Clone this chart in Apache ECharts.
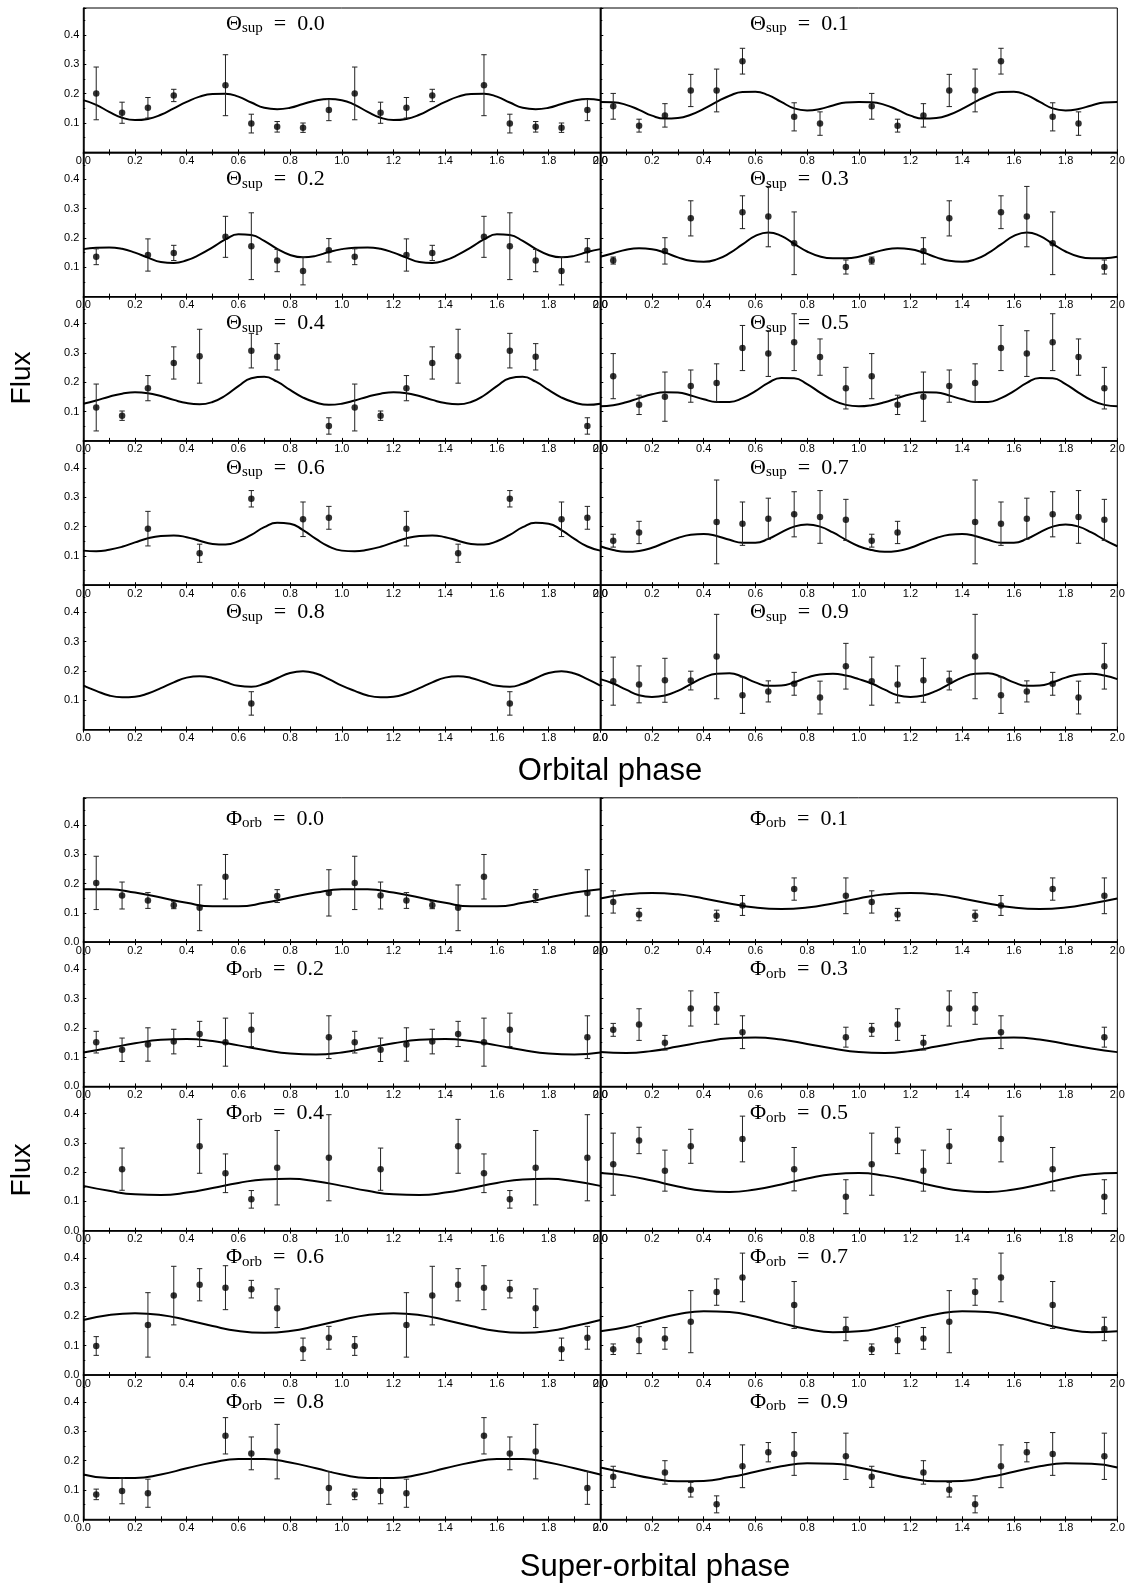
<!DOCTYPE html>
<html lang="en">
<head>
<meta charset="UTF-8">
<title>Flux vs orbital and super-orbital phase</title>
<style>html,body{margin:0;padding:0;background:#fff}</style>
</head>
<body>
<div id="chart" style="width:1130px;height:1587px"></div>
<script src="https://cdn.jsdelivr.net/npm/echarts@6/dist/echarts.min.js"></script>
<script>
// phase bins (centres) - the data are repeated over two cycles
var phaseBins = [0.05, 0.15, 0.25, 0.35, 0.45, 0.55, 0.65, 0.75, 0.85, 0.95];

// upper block: flux vs orbital phase, one panel per super-orbital phase
var supLabels = ['0.0', '0.1', '0.2', '0.3', '0.4', '0.5', '0.6', '0.7', '0.8', '0.9'];
var supFlux = [
    [0.201, 0.135, 0.152, 0.194, null, 0.229, 0.098, 0.087, 0.084, 0.144],
    [0.157, 0.091, 0.126, 0.211, 0.211, 0.311, null, 0.121, 0.098, null],
    [0.136, null, 0.142, 0.149, null, 0.204, 0.172, 0.123, 0.087, 0.158],
    [0.123, null, 0.156, 0.267, null, 0.288, 0.273, 0.182, null, 0.101],
    [0.114, 0.086, 0.180, 0.266, 0.289, null, 0.308, 0.287, null, 0.051],
    [0.221, 0.123, 0.151, 0.187, 0.198, 0.317, 0.298, 0.337, 0.286, 0.180],
    [null, null, 0.193, null, 0.109, null, 0.295, null, 0.225, 0.230],
    [0.152, 0.180, null, null, 0.216, 0.210, 0.227, 0.242, 0.233, 0.223],
    [null, null, null, null, null, null, 0.089, null, null, null],
    [0.165, 0.154, 0.168, 0.167, 0.249, 0.117, 0.130, 0.156, 0.109, 0.216]
];
var supErr = [
    [0.090, 0.036, 0.035, 0.021, null, 0.104, 0.032, 0.018, 0.016, 0.036],
    [0.044, 0.022, 0.040, 0.055, 0.073, 0.044, null, 0.048, 0.040, null],
    [0.027, null, 0.055, 0.026, null, 0.070, 0.114, 0.038, 0.047, 0.040],
    [0.012, null, 0.045, 0.060, null, 0.056, 0.103, 0.107, null, 0.024],
    [0.080, 0.016, 0.043, 0.055, 0.092, null, 0.059, 0.045, null, 0.028],
    [0.077, 0.033, 0.084, 0.055, 0.065, 0.077, 0.078, 0.097, 0.062, 0.071],
    [null, null, 0.059, null, 0.031, null, 0.028, null, 0.059, 0.039],
    [0.022, 0.038, null, null, 0.143, 0.074, 0.070, 0.077, 0.090, 0.070],
    [null, null, null, null, null, null, 0.040, null, null, null],
    [0.082, 0.063, 0.075, 0.032, 0.144, 0.062, 0.036, 0.039, 0.056, 0.078]
];
// model curve read every 0.05 in phase over one cycle
var supModel = [
    [0.178, 0.162, 0.138, 0.118, 0.110, 0.114, 0.128, 0.150, 0.172, 0.190, 0.199, 0.200, 0.190, 0.170, 0.152, 0.147, 0.152, 0.165, 0.177, 0.182],
    [0.172, 0.171, 0.162, 0.145, 0.125, 0.115, 0.117, 0.128, 0.148, 0.172, 0.193, 0.206, 0.207, 0.195, 0.172, 0.150, 0.143, 0.148, 0.160, 0.170],
    [0.162, 0.167, 0.168, 0.163, 0.150, 0.133, 0.118, 0.115, 0.124, 0.143, 0.168, 0.195, 0.213, 0.210, 0.190, 0.163, 0.142, 0.134, 0.139, 0.152],
    [0.136, 0.148, 0.160, 0.165, 0.162, 0.150, 0.134, 0.122, 0.119, 0.127, 0.148, 0.178, 0.207, 0.219, 0.207, 0.180, 0.154, 0.137, 0.131, 0.131],
    [0.127, 0.138, 0.151, 0.161, 0.166, 0.163, 0.153, 0.140, 0.129, 0.125, 0.133, 0.155, 0.187, 0.214, 0.219, 0.202, 0.174, 0.148, 0.131, 0.123],
    [0.118, 0.122, 0.132, 0.146, 0.159, 0.166, 0.165, 0.155, 0.142, 0.133, 0.133, 0.146, 0.170, 0.198, 0.215, 0.214, 0.194, 0.165, 0.139, 0.123],
    [0.118, 0.116, 0.121, 0.131, 0.146, 0.160, 0.168, 0.170, 0.164, 0.152, 0.141, 0.139, 0.150, 0.172, 0.198, 0.213, 0.210, 0.188, 0.158, 0.132],
    [0.133, 0.120, 0.114, 0.117, 0.128, 0.145, 0.161, 0.172, 0.175, 0.168, 0.155, 0.145, 0.145, 0.158, 0.180, 0.200, 0.207, 0.200, 0.180, 0.155],
    [0.150, 0.132, 0.116, 0.110, 0.112, 0.123, 0.141, 0.161, 0.177, 0.182, 0.176, 0.162, 0.149, 0.146, 0.156, 0.175, 0.193, 0.199, 0.191, 0.172],
    [0.172, 0.157, 0.136, 0.117, 0.111, 0.116, 0.132, 0.155, 0.177, 0.190, 0.192, 0.180, 0.161, 0.149, 0.150, 0.161, 0.177, 0.188, 0.190, 0.184]
];

// lower block: flux vs super-orbital phase, one panel per orbital phase
var orbLabels = ['0.0', '0.1', '0.2', '0.3', '0.4', '0.5', '0.6', '0.7', '0.8', '0.9'];
var orbFlux = [
    [0.202, 0.159, 0.142, 0.126, 0.117, 0.223, null, 0.157, null, 0.168],
    [0.137, 0.094, null, null, 0.090, 0.125, null, 0.181, null, 0.158],
    [0.151, 0.125, 0.143, 0.153, 0.179, 0.151, 0.193, null, null, 0.168],
    [0.193, 0.211, 0.149, 0.266, 0.266, 0.185, null, null, null, 0.168],
    [null, 0.210, null, null, 0.288, 0.196, 0.107, 0.215, null, 0.249],
    [0.227, 0.308, 0.205, 0.288, null, 0.313, null, 0.210, null, 0.116],
    [0.099, null, 0.171, 0.271, 0.308, 0.298, 0.293, 0.228, 0.088, 0.127],
    [0.088, 0.119, 0.125, 0.182, 0.283, 0.333, null, 0.239, null, 0.157],
    [0.085, 0.097, 0.089, null, null, 0.285, 0.225, 0.231, null, 0.107],
    [0.145, null, 0.160, 0.101, 0.051, 0.181, 0.229, 0.223, null, 0.215]
];
var orbErr = [
    [0.091, 0.046, 0.027, 0.012, 0.078, 0.076, null, 0.022, null, 0.079],
    [0.038, 0.021, null, null, 0.019, 0.034, null, 0.038, null, 0.061],
    [0.037, 0.040, 0.057, 0.042, 0.043, 0.082, 0.057, null, null, 0.073],
    [0.022, 0.054, 0.025, 0.060, 0.054, 0.056, null, null, null, 0.034],
    [null, 0.072, null, null, 0.092, 0.066, 0.030, 0.127, null, 0.147],
    [0.106, 0.045, 0.070, 0.058, null, 0.078, null, 0.074, null, 0.058],
    [0.032, null, 0.110, 0.100, 0.055, 0.075, 0.030, 0.066, 0.038, 0.039],
    [0.018, 0.046, 0.037, 0.106, 0.045, 0.083, null, 0.080, null, 0.040],
    [0.018, 0.044, 0.048, null, null, 0.062, 0.056, 0.093, null, 0.056],
    [0.036, null, 0.040, 0.025, 0.029, 0.073, 0.033, 0.073, null, 0.079]
];
// model curve read every 0.1 in phase over one cycle
var orbModel = [
    [0.180, 0.180, 0.169, 0.152, 0.134, 0.122, 0.122, 0.134, 0.152, 0.169],
    [0.149, 0.163, 0.168, 0.163, 0.149, 0.132, 0.118, 0.113, 0.118, 0.132],
    [0.116, 0.131, 0.147, 0.159, 0.162, 0.155, 0.140, 0.124, 0.112, 0.109],
    [0.117, 0.114, 0.121, 0.136, 0.152, 0.164, 0.167, 0.160, 0.145, 0.129],
    [0.153, 0.136, 0.124, 0.122, 0.130, 0.146, 0.163, 0.175, 0.177, 0.169],
    [0.197, 0.188, 0.171, 0.151, 0.136, 0.132, 0.141, 0.158, 0.178, 0.193],
    [0.188, 0.205, 0.211, 0.205, 0.188, 0.167, 0.150, 0.144, 0.150, 0.167],
    [0.149, 0.164, 0.187, 0.207, 0.218, 0.215, 0.200, 0.177, 0.157, 0.146],
    [0.153, 0.141, 0.141, 0.153, 0.174, 0.194, 0.206, 0.206, 0.194, 0.174],
    [0.177, 0.158, 0.140, 0.130, 0.131, 0.144, 0.162, 0.181, 0.191, 0.190]
];

var chart = echarts.init(document.getElementById('chart'));

var panelLeft = [83.3, 600.3];
var panelWidth = 517;
var rowHeight = 144.3;
var groupTop = [8, 797.8];
var titleLeft = [226, 750];
// title offset below the panel top: first row of each block sits a bit higher
var titleDrop = [[4, 15, 15, 15, 15], [9, 15, 15, 15, 15]];

var grid = [], xAxis = [], yAxis = [], series = [], title = [];
var tickStyle = {color: '#000', width: 1};
var fmt = function (v) { return v.toFixed(1); };

var richTitle = {
    g: {fontFamily: 'Liberation Serif', fontSize: 22, lineHeight: 24, fontWeight: 'normal', color: '#000'},
    s: {fontFamily: 'Liberation Serif', fontSize: 15, lineHeight: 15, fontWeight: 'normal', color: '#000', verticalAlign: 'bottom'}
};

function repeatPoints(flux, err) {
    var out = [];
    for (var rep = 0; rep < 2; rep++) {
        for (var j = 0; j < phaseBins.length; j++) {
            if (flux[j] == null) continue;
            out.push([phaseBins[j] + rep, flux[j], err[j]]);
        }
    }
    return out;
}

function repeatModel(model) {
    var n = model.length, out = [];
    for (var rep = 0; rep < 2; rep++) {
        for (var j = 0; j < n; j++) out.push([rep + j / n, model[j]]);
    }
    out.push([2, model[0]]);
    return out;
}

function renderErrorBar(params, api) {
    var x = api.value(0), v = api.value(1), e = api.value(2);
    var hi = api.coord([x, v + e]);
    var lo = api.coord([x, v - e]);
    var w = 2.7;
    var st = {stroke: '#222', lineWidth: 1};
    return {
        type: 'group',
        children: [
            {type: 'line', shape: {x1: hi[0], y1: hi[1], x2: lo[0], y2: lo[1]}, style: st},
            {type: 'line', shape: {x1: hi[0] - w, y1: hi[1], x2: hi[0] + w, y2: hi[1]}, style: st},
            {type: 'line', shape: {x1: lo[0] - w, y1: lo[1], x2: lo[0] + w, y2: lo[1]}, style: st}
        ]
    };
}

function addPanel(group, k, greek, sub, label, flux, err, model) {
    var i = grid.length;
    var col = k % 2, row = (k - col) / 2;
    var top = groupTop[group] + row * rowHeight;

    grid.push({
        left: panelLeft[col], top: top, width: panelWidth, height: rowHeight,
        show: true, borderColor: '#000', borderWidth: 1, outerBoundsMode: 'none'
    });
    xAxis.push({
        gridIndex: i, type: 'value', min: 0, max: 2, interval: 0.2, position: 'bottom',
        axisLine: {onZero: false, lineStyle: {color: '#000', width: 1.5}},
        axisTick: {inside: true, length: 3, lineStyle: tickStyle},
        minorTick: {show: true, splitNumber: 2, length: 3, lineStyle: tickStyle},
        splitLine: {show: false},
        axisLabel: {color: '#000', fontSize: 11, fontFamily: 'Liberation Sans', margin: 3, formatter: fmt}
    });
    xAxis.push({
        gridIndex: i, type: 'value', min: 0, max: 2, interval: 0.2, position: 'top',
        axisLine: {show: false},
        axisTick: {inside: true, length: 3, lineStyle: tickStyle},
        minorTick: {show: true, splitNumber: 2, length: 3, lineStyle: tickStyle},
        splitLine: {show: false},
        axisLabel: {show: false}
    });
    yAxis.push({
        gridIndex: i, type: 'value', min: 0, max: 0.4925, interval: 0.1,
        axisLine: {show: true, onZero: false, lineStyle: {color: '#000', width: 1.5}},
        axisTick: {inside: true, length: 3, lineStyle: tickStyle},
        minorTick: {show: true, splitNumber: 2, length: 2, lineStyle: tickStyle},
        splitLine: {show: false},
        axisLabel: {
            show: col === 0, showMinLabel: group === 1, showMaxLabel: false,
            color: '#000', fontSize: 11, fontFamily: 'Liberation Sans', margin: 4, formatter: fmt
        }
    });

    var pts = repeatPoints(flux, err);
    series.push({
        type: 'line', xAxisIndex: 2 * i, yAxisIndex: i, data: repeatModel(model),
        smooth: 0.5, symbol: 'none', lineStyle: {color: '#000', width: 2}, silent: true, z: 2
    });
    series.push({
        type: 'custom', xAxisIndex: 2 * i, yAxisIndex: i, data: pts,
        renderItem: renderErrorBar, encode: {x: 0, y: 1}, silent: true, z: 3
    });
    series.push({
        type: 'scatter', xAxisIndex: 2 * i, yAxisIndex: i, data: pts,
        symbolSize: 6.5, itemStyle: {color: '#000'}, silent: true, z: 4
    });

    title.push({
        text: '{g|' + greek + '}{s|' + sub + '}{g|\u2002=\u2002' + label + '}',
        left: titleLeft[col], top: top + titleDrop[group][row], padding: 0,
        textStyle: {fontWeight: 'normal', rich: richTitle}
    });
}

for (var k = 0; k < 10; k++) {
    addPanel(0, k, '\u0398', 'sup', supLabels[k], supFlux[k], supErr[k], supModel[k]);
}
for (var k = 0; k < 10; k++) {
    addPanel(1, k, '\u03A6', 'orb', orbLabels[k], orbFlux[k], orbErr[k], orbModel[k]);
}

var labelFont = 'Liberation Sans';
chart.setOption({
    animation: false,
    backgroundColor: '#fff',
    title: title,
    grid: grid,
    xAxis: xAxis,
    yAxis: yAxis,
    series: series,
    graphic: [
        {type: 'text', x: 22, y: 378, rotation: Math.PI / 2,
            style: {text: 'Flux', fontSize: 28, fontFamily: labelFont, fill: '#000', align: 'center', verticalAlign: 'middle'}},
        {type: 'text', x: 22, y: 1170, rotation: Math.PI / 2,
            style: {text: 'Flux', fontSize: 28, fontFamily: labelFont, fill: '#000', align: 'center', verticalAlign: 'middle'}},
        {type: 'text', x: 610, y: 771,
            style: {text: 'Orbital phase', fontSize: 31, fontFamily: labelFont, fill: '#000', align: 'center', verticalAlign: 'middle'}},
        {type: 'text', x: 655, y: 1567,
            style: {text: 'Super-orbital phase', fontSize: 31, fontFamily: labelFont, fill: '#000', align: 'center', verticalAlign: 'middle'}}
    ]
});
</script>
</body>
</html>
